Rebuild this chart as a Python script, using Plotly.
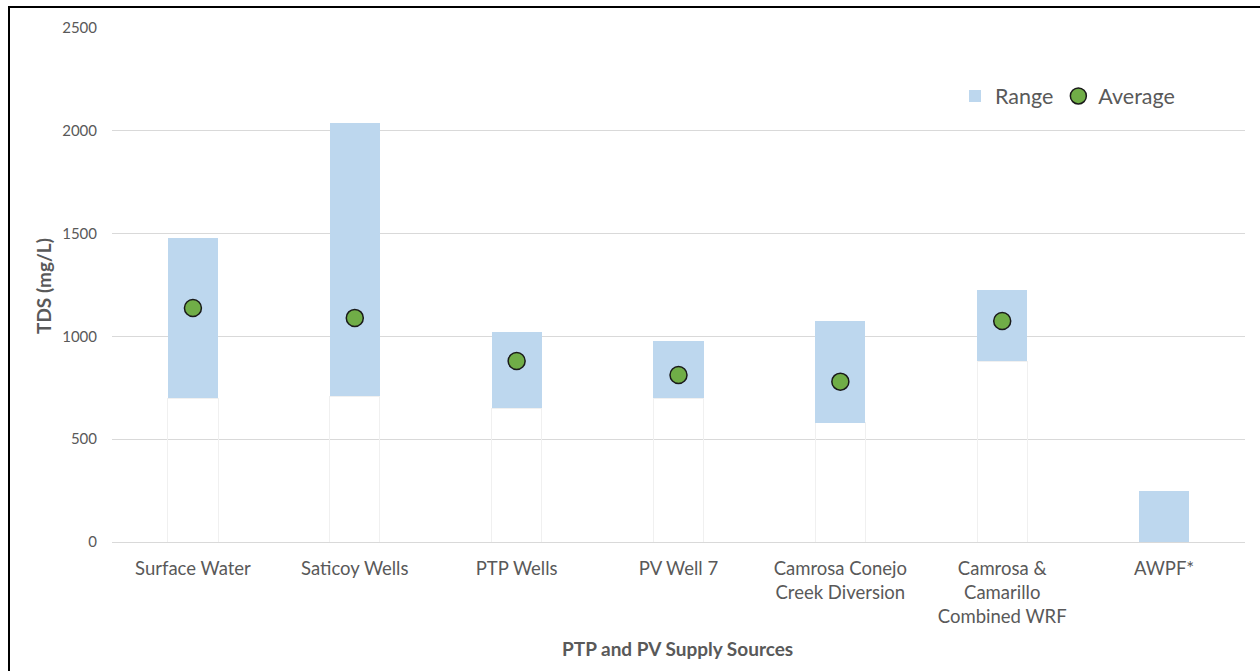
import plotly.graph_objects as go

categories = ["Surface Water", "Saticoy Wells", "PTP Wells", "PV Well 7",
              "Camrosa Conejo<br>Creek Diversion",
              "Camrosa &<br>Camarillo<br>Combined WRF", "AWPF*"]
range_min = [700, 710, 650, 700, 580, 880, 0]
range_max = [1480, 2040, 1020, 980, 1075, 1225, 250]
average = [1138, 1090, 880, 812, 780, 1075, None]

range_len = [hi - lo for lo, hi in zip(range_min, range_max)]

TXT = "#595959"
FONT = "Lato"
L, R, T, B = 112, 1245, 28, 542
PW, PH = R - L, B - T

fig = go.Figure()
fig.add_trace(go.Bar(
    x=categories, y=range_min, name="base", showlegend=False,
    marker=dict(color="rgba(255,255,255,0)", line=dict(color="#f0f0f0", width=1)),
    width=0.31, hoverinfo="skip"))
fig.add_trace(go.Bar(
    x=categories, y=range_len, name="Range",
    marker=dict(color="#bdd7ee", line=dict(width=0)),
    width=0.31))
fig.add_trace(go.Scatter(
    x=categories, y=average, name="Average", mode="markers",
    marker=dict(color="#70ad47", size=17, line=dict(color="#1a1a1a", width=1.5))))

fig.update_layout(
    width=1260, height=671,
    margin=dict(l=L, r=1260 - R, t=T, b=671 - B),
    paper_bgcolor="white", plot_bgcolor="white",
    barmode="stack",
    font=dict(family=FONT, color=TXT, size=16),
    showlegend=True,
    legend=dict(orientation="h", x=(955 - L) / PW, y=(B - 96) / PH,
                xanchor="left", yanchor="middle",
                font=dict(size=21.5, color=TXT), bgcolor="rgba(0,0,0,0)",
                traceorder="normal"),
    xaxis=dict(showgrid=False, showline=False, zeroline=False, ticks="",
               tickfont=dict(size=18.5, color=TXT), ticklabelstandoff=13),
    yaxis=dict(range=[0, 2500], dtick=500, showgrid=True, gridcolor="#d9d9d9",
               gridwidth=1, zeroline=True, zerolinecolor="#d9d9d9", zerolinewidth=1,
               showline=False, ticks="", tickfont=dict(size=15, color=TXT),
               ticklabelstandoff=14),
    annotations=[
        dict(text="<b>TDS (mg/L)</b>", xref="paper", yref="paper",
             x=(43 - L) / PW, y=(B - 286) / PH, textangle=-90,
             showarrow=False, font=dict(size=19, color=TXT),
             xanchor="center", yanchor="middle"),
        dict(text="<b>PTP and PV Supply Sources</b>", xref="paper", yref="paper",
             x=(677 - L) / PW, y=(B - 648) / PH,
             showarrow=False, font=dict(size=19, color=TXT),
             xanchor="center", yanchor="middle"),
    ],
    shapes=[dict(type="rect", xref="paper", yref="paper",
                 x0=(9 - L) / PW, x1=(1275 - L) / PW,
                 y0=(B - 700) / PH, y1=(B - 7) / PH,
                 line=dict(color="black", width=2), fillcolor="rgba(0,0,0,0)")],
)

fig.write_html("out.html")
